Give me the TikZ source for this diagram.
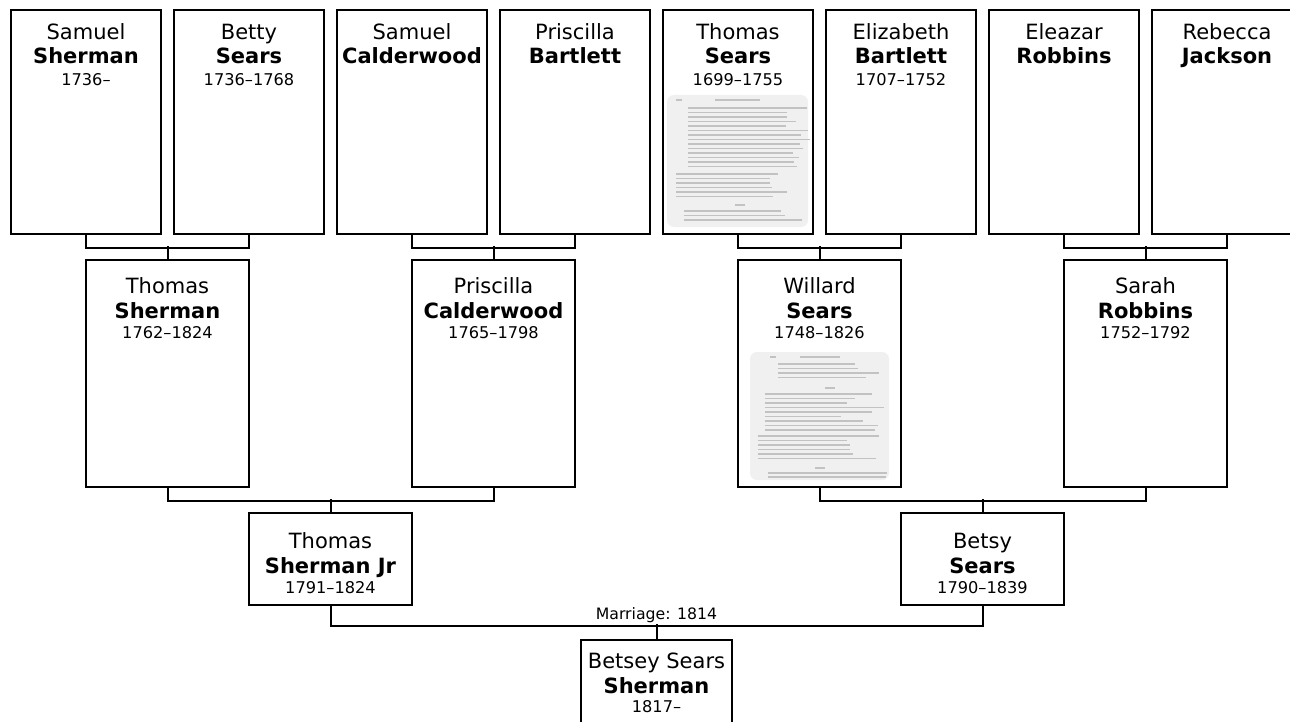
\documentclass[tikz,border=0pt]{standalone}
\usepackage{fontspec}
\setmainfont{DejaVu Sans}
\tikzset{
  pbox/.style={draw=black, line width=2pt, fill=white, rectangle, inner sep=0pt},
  fname/.style={font=\fontsize{21}{24}\selectfont, inner sep=0pt},
  lname/.style={font=\fontsize{21}{24}\selectfont\bfseries, inner sep=0pt},
  yrs/.style={font=\fontsize{16.2}{18}\selectfont, inner sep=0pt},
  conn/.style={draw=black, line width=2pt},
  mlabel/.style={font=\fontsize{15.7}{18}\selectfont, inner sep=0pt},
  thumbbg/.style={fill=black!6, rounded corners=7pt},
  thumbline/.style={draw=black!24, line width=1.6pt},
}
\newcommand\oA{31}
\newcommand\oB{24}
\newcommand\oC{21}
% id, cx, top, w, h, first, last, years
\newcommand\pbox[8]{%
  \node[pbox, minimum width=#4pt, minimum height=#5pt, anchor=north] (#1) at (#2,#3) {};
  \node[fname, anchor=base] (#1f) at (#2,{#3+\oA}) {#6};
  \node[lname, anchor=base] (#1l) at (#2,{#3+\oA+\oB}) {#7};
  \node[yrs, anchor=base] (#1y) at (#2,{#3+\oA+\oB+\oC}) {#8};
}
\begin{document}
\begin{tikzpicture}[x=1pt, y=-1pt]
\useasboundingbox (0,0) rectangle (1290,722);
\clip (0,0) rectangle (1290,722);
\fill[white] (0,0) rectangle (1290,722);

% generation 1
\renewcommand\oA{31}\renewcommand\oB{24}\renewcommand\oC{22}
\pbox{a1}{86}{9}{150}{224}{Samuel}{Sherman}{1736--}
\pbox{a2}{249}{9}{150}{224}{Betty}{Sears}{1736--1768}
\pbox{a3}{412}{9}{150}{224}{Samuel}{Calderwood}{}
\pbox{a4}{575}{9}{150}{224}{Priscilla}{Bartlett}{}
\pbox{a5}{738}{9}{150}{224}{Thomas}{Sears}{1699--1755}
\pbox{a6}{901}{9}{150}{224}{Elizabeth}{Bartlett}{1707--1752}
\pbox{a7}{1064}{9}{150}{224}{Eleazar}{Robbins}{}
\pbox{a8}{1227}{9}{150}{224}{Rebecca}{Jackson}{}

% generation 2
\renewcommand\oA{34}\renewcommand\oB{25}\renewcommand\oC{20}
\pbox{b1}{167.5}{259}{163}{227}{Thomas}{Sherman}{1762--1824}
\pbox{b2}{493.5}{259}{163}{227}{Priscilla}{Calderwood}{1765--1798}
\pbox{b3}{819.5}{259}{163}{227}{Willard}{Sears}{1748--1826}
\pbox{b4}{1145.5}{259}{163}{227}{Sarah}{Robbins}{1752--1792}

% generation 3
\renewcommand\oA{36}\renewcommand\oB{25}\renewcommand\oC{20}
\pbox{c1}{330.5}{512}{163}{92}{Thomas}{Sherman Jr}{1791--1824}
\pbox{c2}{982.5}{512}{163}{92}{Betsy}{Sears}{1790--1839}

% generation 4
\renewcommand\oA{29}\renewcommand\oB{25.5}\renewcommand\oC{19}
\pbox{d1}{656.5}{639}{151}{100}{Betsey Sears}{Sherman}{1817--}

% document thumbnails
\fill[thumbbg] (667,95) rectangle (808,227);
\pgfmathsetseed{7}
\draw[thumbline] (715,100) -- (760,100);
\draw[thumbline] (676,100) -- (682,100);
\foreach \yy in {108,112.5,...,168}{
  \pgfmathsetmacro\len{95+rnd*28}
  \draw[thumbline] (688,\yy) -- ++(\len,0);
}
\foreach \yy in {174,178.5,...,200}{
  \pgfmathsetmacro\len{90+rnd*35}
  \draw[thumbline] (676,\yy) -- ++(\len,0);
}
\draw[thumbline] (735,205) -- (745,205);
\foreach \yy in {211,215.5,...,224}{
  \pgfmathsetmacro\len{95+rnd*28}
  \draw[thumbline] (684,\yy) -- ++(\len,0);
}

\fill[thumbbg] (750,352) rectangle (889,480);
\draw[thumbline] (770,357) -- (776,357);
\draw[thumbline] (800,357) -- (840,357);
\foreach \yy in {364,368.5,...,378}{
  \pgfmathsetmacro\len{70+rnd*40}
  \draw[thumbline] (778,\yy) -- ++(\len,0);
}
\draw[thumbline] (825,388) -- (835,388);
\foreach \yy in {394,398.5,...,430}{
  \pgfmathsetmacro\len{60+rnd*60}
  \draw[thumbline] (765,\yy) -- ++(\len,0);
}
\foreach \yy in {436,440.5,...,462}{
  \pgfmathsetmacro\len{80+rnd*45}
  \draw[thumbline] (758,\yy) -- ++(\len,0);
}
\draw[thumbline] (815,468) -- (825,468);
\foreach \yy in {473,477}{
  \pgfmathsetmacro\len{90+rnd*30}
  \draw[thumbline] (768,\yy) -- ++(\len,0);
}

% connectors generation 1 -> 2
\draw[conn] (a1.south) -- ++(0,13) -| (a2.south);
\draw[conn] (b1.north) -- ++(0,-13);
\draw[conn] (a3.south) -- ++(0,13) -| (a4.south);
\draw[conn] (b2.north) -- ++(0,-13);
\draw[conn] (a5.south) -- ++(0,13) -| (a6.south);
\draw[conn] (b3.north) -- ++(0,-13);
\draw[conn] (a7.south) -- ++(0,13) -| (a8.south);
\draw[conn] (b4.north) -- ++(0,-13);

% connectors generation 2 -> 3
\draw[conn] (b1.south) -- ++(0,13) -| (b2.south);
\draw[conn] (c1.north) -- ++(0,-13);
\draw[conn] (b3.south) -- ++(0,13) -| (b4.south);
\draw[conn] (c2.north) -- ++(0,-13);

% marriage
\draw[conn] (c1.south) -- ++(0,20) coordinate (mleft) -| (c2.south);
\draw[conn] (d1.north) -- ++(0,-15) coordinate (mmid);
\node[mlabel, anchor=base] (mlab) at (656.5,619.5) {Marriage: 1814};
\end{tikzpicture}
\end{document}
